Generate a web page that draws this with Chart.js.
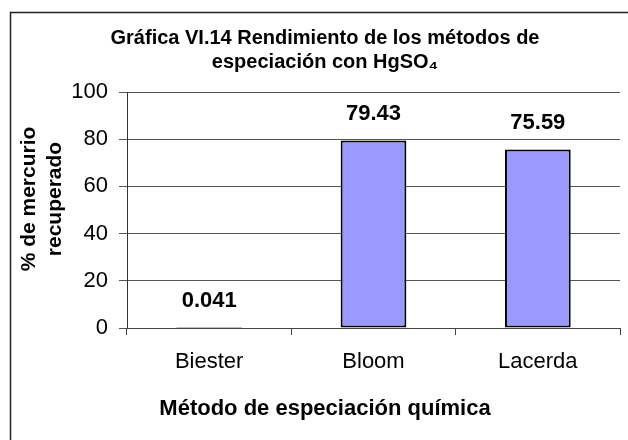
<!DOCTYPE html>
<html lang="es">
<head>
<meta charset="UTF-8">
<title>Gráfica VI.14</title>
<script src="https://cdn.jsdelivr.net/npm/chart.js"></script>
<style>
  html, body { margin: 0; padding: 0; background: #fff; overflow: hidden; }
  /* el marco original es un poco más ancho que la imagen y queda recortado */
  .wrap { position: relative; width: 640px; height: 440px; }
</style>
</head>
<body>
<div class="wrap"><canvas id="grafica"></canvas></div>
<script>
// datos de la gráfica
const metodos = ['Biester', 'Bloom', 'Lacerda'];
const porcentajes = [0.041, 79.43, 75.59];
const ticksY = [0, 20, 40, 60, 80, 100];
const titulo = ['Gráfica VI.14 Rendimiento de los métodos de', 'especiación con HgSO₄'];
const tituloY = ['% de mercurio', 'recuperado'];
const tituloX = 'Método de especiación química';

const fuente = '"Liberation Sans", Arial, Helvetica, sans-serif';

// marco del gráfico (recortado a la derecha y abajo)
const marco = {
  id: 'marco',
  beforeDraw(chart) {
    const ctx = chart.ctx;
    ctx.save();
    ctx.fillStyle = '#fff';
    ctx.fillRect(0, 0, chart.width, chart.height);
    ctx.strokeStyle = '#222';
    ctx.lineWidth = 1.5;
    ctx.beginPath();
    ctx.moveTo(10.5, chart.height);
    ctx.lineTo(10.5, 12.5);
    ctx.lineTo(chart.width, 12.5);
    ctx.stroke();
    ctx.restore();
  }
};

// valores encima de cada barra + título del eje y (algo por encima del centro)
const etiquetas = {
  id: 'etiquetas',
  afterDatasetsDraw(chart) {
    const ctx = chart.ctx;
    const meta = chart.getDatasetMeta(0);
    ctx.save();
    ctx.font = 'bold 22px ' + fuente;
    ctx.fillStyle = '#000';
    ctx.textAlign = 'center';
    ctx.textBaseline = 'middle';
    meta.data.forEach((bar, i) => {
      ctx.fillText(String(porcentajes[i]), bar.x, bar.y - 27);
    });

    const area = chart.chartArea;
    ctx.font = 'bold 21px ' + fuente;
    ctx.translate(29, (area.top + area.bottom) / 2 - 11);
    ctx.rotate(-Math.PI / 2);
    tituloY.forEach((linea, i) => ctx.fillText(linea, 0, i * 26));
    ctx.restore();
  }
};

const ctx = document.getElementById('grafica').getContext('2d');
new Chart(ctx, {
  type: 'bar',
  data: {
    labels: metodos,
    datasets: [{
      data: porcentajes,
      backgroundColor: '#9999ff',
      borderColor: '#000',
      borderWidth: 2,
      borderSkipped: false,
      categoryPercentage: 1,
      barPercentage: 0.4
    }]
  },
  options: {
    responsive: true,
    maintainAspectRatio: false,
    animation: false,
    layout: { padding: { left: 10, top: 12, right: 0, bottom: 0 } },
    plugins: {
      legend: { display: false },
      tooltip: { enabled: false },
      title: {
        display: true,
        text: titulo,
        color: '#000',
        font: { family: fuente, size: 20, weight: 'bold', lineHeight: '24px' },
        padding: { top: 14, bottom: 18 }
      },
      subtitle: {
        display: true,
        position: 'bottom',
        text: tituloX,
        color: '#000',
        font: { family: fuente, size: 22, weight: 'bold', lineHeight: '26px' },
        padding: { top: 8, bottom: 18 }
      }
    },
    scales: {
      x: {
        afterFit(scale) { scale.height = 60; },
        grid: { drawOnChartArea: false, tickLength: 7, color: '#444' },
        border: { color: '#444', width: 1 },
        ticks: { color: '#000', padding: 14, font: { family: fuente, size: 22 } }
      },
      y: {
        min: 0,
        max: 100,
        afterFit(scale) { scale.width = 117; },
        afterBuildTicks(scale) { scale.ticks = ticksY.map(v => ({ value: v })); },
        grid: { color: '#555', tickLength: 8, lineWidth: 1 },
        border: { color: '#333', width: 1 },
        ticks: { color: '#000', padding: 11, font: { family: fuente, size: 22 } }
      },
      // eje vacío a la derecha: deja el hueco entre el área de trazado y el borde
      margen: {
        type: 'linear',
        position: 'right',
        afterFit(scale) { scale.width = 20; },
        grid: { display: false },
        border: { display: false },
        ticks: { display: false }
      }
    }
  },
  plugins: [marco, etiquetas]
});
</script>
</body>
</html>
